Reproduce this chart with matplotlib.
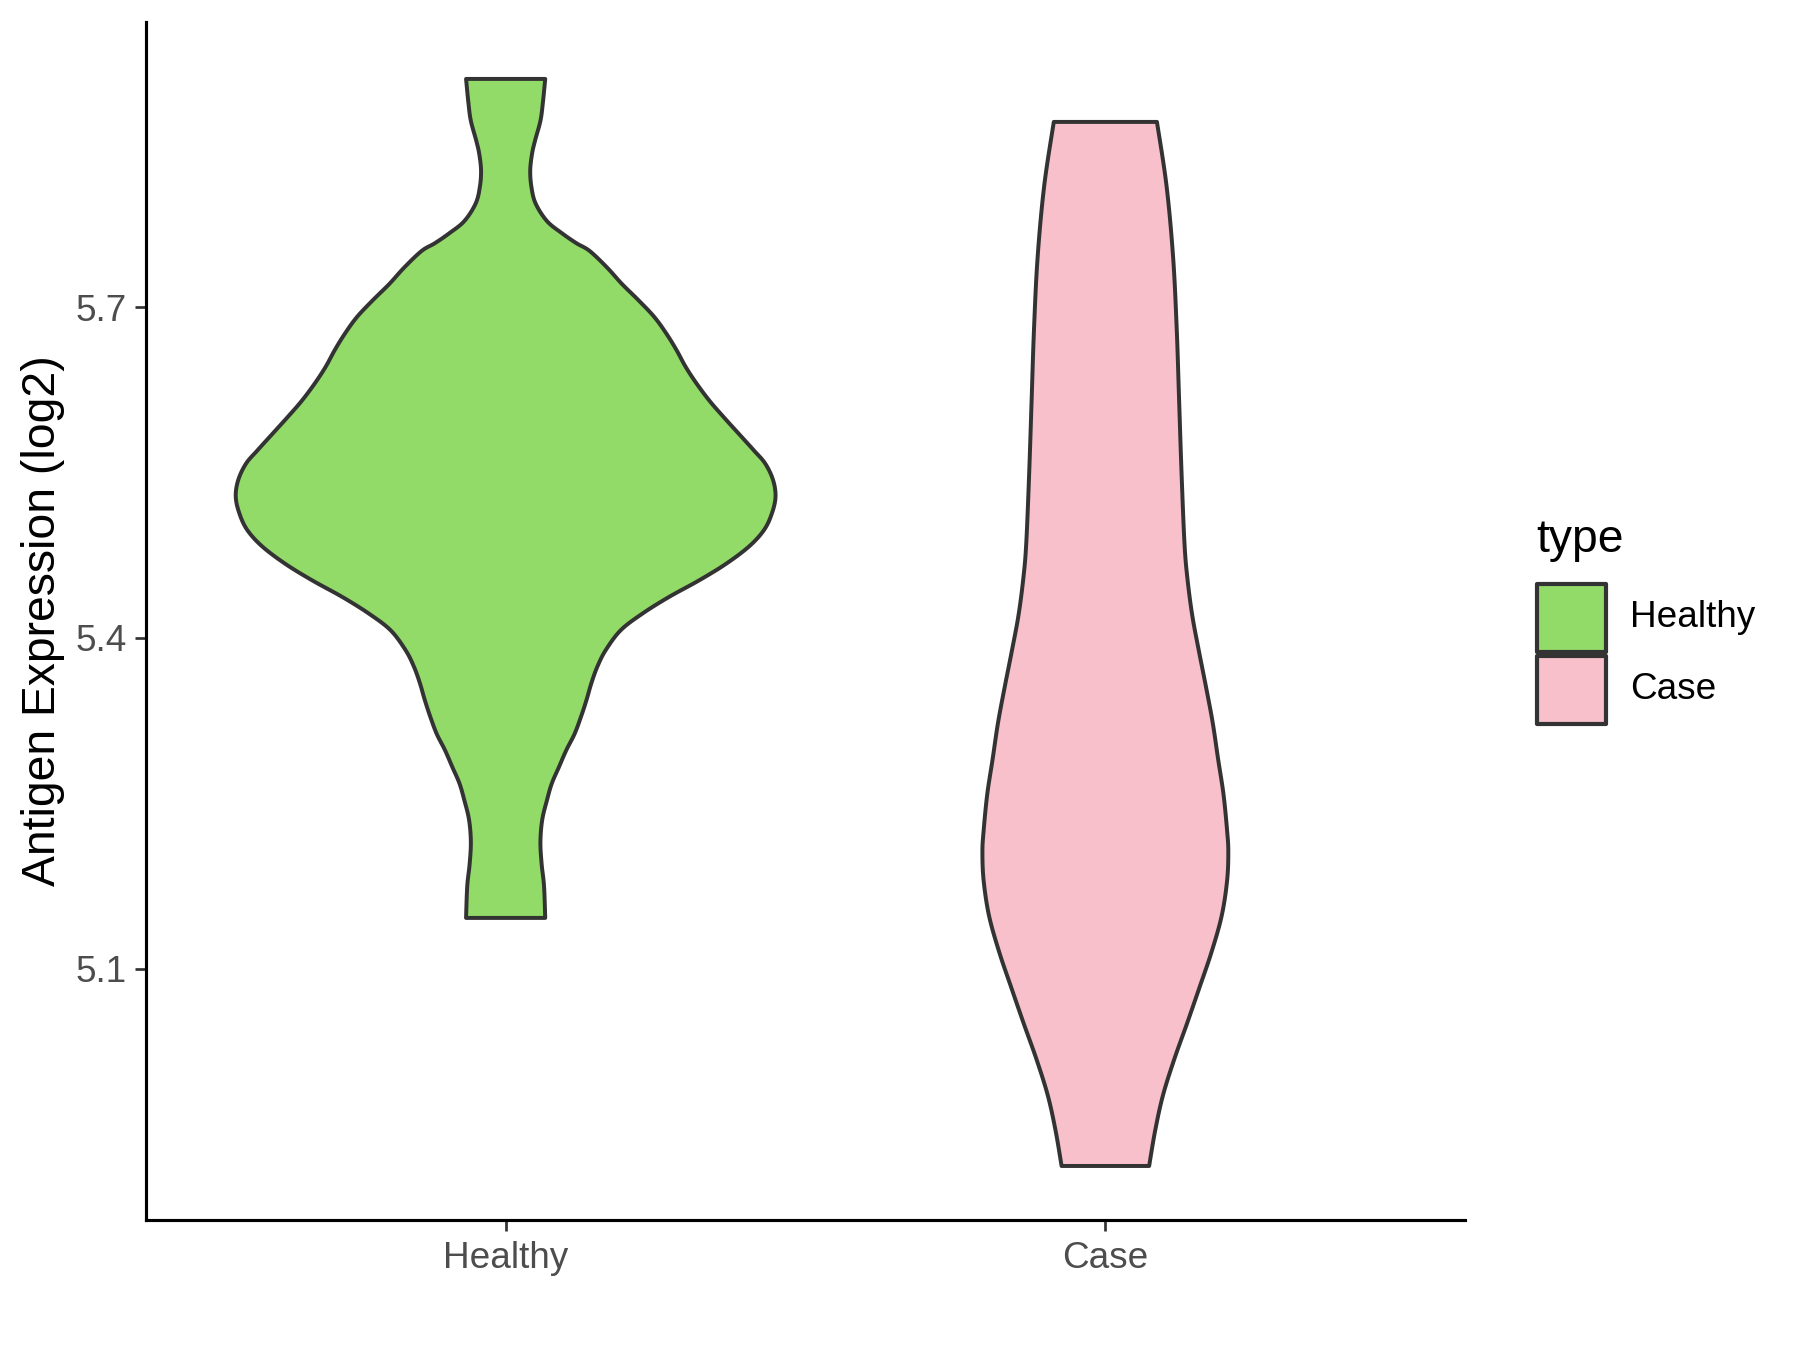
#!/usr/bin/env python3

import numpy as np
import matplotlib
matplotlib.use("Agg")
import matplotlib.pyplot as plt
from matplotlib.patches import Rectangle

plt.rcParams['font.family'] = ['Liberation Sans', 'DejaVu Sans']

groups = ["Healthy", "Case"]
colors = ["#93DB69", "#F7C0CB"]

# violin outlines: y value and half width (in x units)
healthy_y = [5.907, 5.885, 5.869, 5.851, 5.839, 5.824, 5.809, 5.794, 5.778, 5.767,
             5.758, 5.751, 5.736, 5.721, 5.706, 5.691, 5.676, 5.661, 5.646, 5.631,
             5.615, 5.600, 5.585, 5.570, 5.558, 5.543, 5.528, 5.513, 5.498, 5.483,
             5.467, 5.452, 5.437, 5.422, 5.407, 5.389, 5.374, 5.359, 5.344, 5.329,
             5.313, 5.298, 5.283, 5.268, 5.253, 5.235, 5.215, 5.195, 5.175, 5.146]
healthy_w = [0.066, 0.062, 0.058, 0.049, 0.044, 0.041, 0.043, 0.050, 0.069, 0.094,
             0.118, 0.140, 0.169, 0.194, 0.222, 0.248, 0.268, 0.285, 0.300, 0.318,
             0.340, 0.364, 0.389, 0.414, 0.433, 0.446, 0.450, 0.444, 0.431, 0.406,
             0.367, 0.322, 0.272, 0.228, 0.192, 0.167, 0.153, 0.143, 0.135, 0.126,
             0.115, 0.101, 0.089, 0.077, 0.069, 0.061, 0.058, 0.060, 0.064, 0.066]

case_y = [5.868, 5.810, 5.745, 5.680, 5.615, 5.550, 5.485, 5.453, 5.420, 5.388,
          5.355, 5.323, 5.290, 5.258, 5.225, 5.206, 5.180, 5.148, 5.115, 5.083,
          5.050, 5.018, 4.985, 4.953, 4.921]
case_w = [0.086, 0.102, 0.113, 0.119, 0.123, 0.127, 0.132, 0.137, 0.145, 0.156,
          0.168, 0.179, 0.188, 0.197, 0.203, 0.205, 0.203, 0.194, 0.177, 0.157,
          0.136, 0.115, 0.096, 0.083, 0.073]

yticks = [5.1, 5.4, 5.7]


def smooth(y, w, n=12):
	# catmull-rom through the read points, just for drawing
	y = np.asarray(y)
	w = np.asarray(w)
	py = np.concatenate([[y[0]], y, [y[-1]]])
	pw = np.concatenate([[w[0]], w, [w[-1]]])
	out_y, out_w = [], []
	t = np.linspace(0, 1, n, endpoint=False)
	for i in range(1, len(py) - 2):
		for p, out in ((py, out_y), (pw, out_w)):
			p0, p1, p2, p3 = p[i - 1], p[i], p[i + 1], p[i + 2]
			v = 0.5 * ((2 * p1) + (-p0 + p2) * t + (2 * p0 - 5 * p1 + 4 * p2 - p3) * t ** 2
					   + (-p0 + 3 * p1 - 3 * p2 + p3) * t ** 3)
			out.extend(v)
	out_y.append(y[-1])
	out_w.append(w[-1])
	return np.array(out_y), np.array(out_w)


fig = plt.figure(figsize=(12, 9), dpi=150)
ax = fig.add_axes([0.081, 0.0963, 0.733, 0.8877])

for i, (vy, vw) in enumerate([(healthy_y, healthy_w), (case_y, case_w)]):
	sy, sw = smooth(vy, vw)
	xs = np.concatenate([i + 1 - sw, (i + 1 + sw)[::-1]])
	ys = np.concatenate([sy, sy[::-1]])
	ax.fill(xs, ys, facecolor=colors[i], edgecolor="#333333", linewidth=1.9,
			joinstyle="round", zorder=2)

ax.set_xlim(0.4, 2.6)
ax.set_ylim(4.872, 5.959)
ax.set_xticks([1, 2])
ax.set_xticklabels(groups)
ax.set_yticks(yticks)
ax.set_yticklabels([f"{v:.1f}" for v in yticks])
ax.tick_params(axis="both", labelsize=17.7, labelcolor="#4D4D4D", color="#333333",
			   length=5.2, width=1.3)
ax.tick_params(axis="x", pad=5)
ax.tick_params(axis="y", pad=4)
for s in ["top", "right"]:
	ax.spines[s].set_visible(False)
for s in ["left", "bottom"]:
	ax.spines[s].set_linewidth(1.5)
	ax.spines[s].set_color("black")
ax.set_ylabel("Antigen Expression (log2)", fontsize=22.2, labelpad=5)

# legend, ggplot style
fig.text(0.8533, 0.600, "type", fontsize=22.2, va="center", ha="left")
kw, kh = 0.0383, 0.0504
for i, g in enumerate(groups):
	y0 = 0.5173 - i * 0.0536
	fig.add_artist(Rectangle((0.8537, y0), kw, kh, transform=fig.transFigure,
							 facecolor=colors[i], edgecolor="#333333", linewidth=2.0,
							 joinstyle="round"))
	fig.text(0.9056, y0 + kh / 2, g, fontsize=17.7, va="center", ha="left")

fig.savefig("out.png", dpi=150)
